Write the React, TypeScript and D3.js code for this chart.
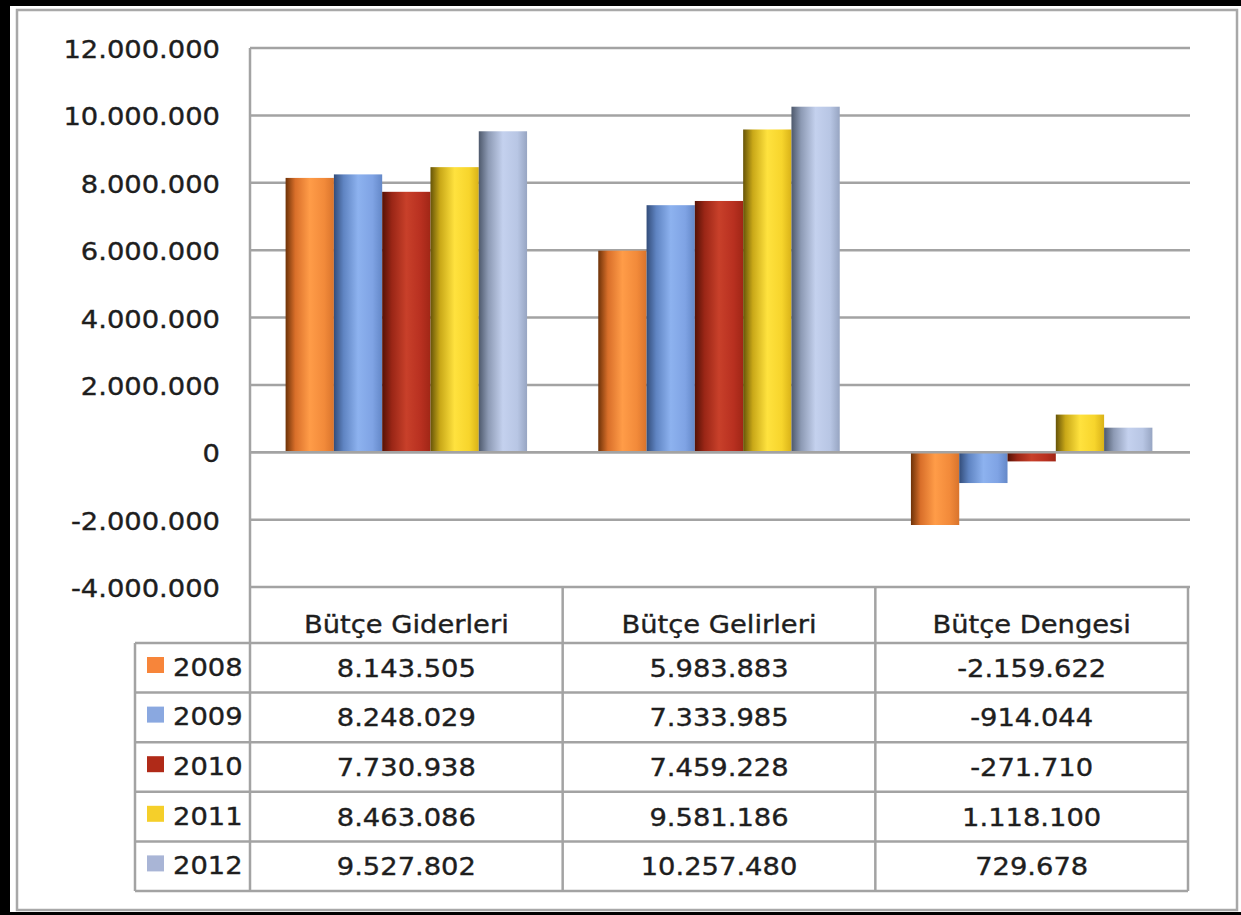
import React from 'react';
import { scaleBand, scaleLinear } from 'd3';

const categories = ['Bütçe Giderleri', 'Bütçe Gelirleri', 'Bütçe Dengesi'];
const years = ['2008', '2009', '2010', '2011', '2012'];
const values: number[][] = [
  [8143505, 5983883, -2159622],
  [8248029, 7333985, -914044],
  [7730938, 7459228, -271710],
  [8463086, 9581186, 1118100],
  [9527802, 10257480, 729678],
];
const tickValues = [-4000000, -2000000, 0, 2000000, 4000000, 6000000, 8000000, 10000000, 12000000];

// gradient stops per year: dark left edge, light middle, base right
const gradients = [
  ['#6e3208', '#d96f2a', '#ff9c48', '#f28a3a', '#d9742c'],
  ['#334d7a', '#5f84c2', '#8db2ef', '#7fa3e4', '#6488c8'],
  ['#551206', '#9a2616', '#c8402a', '#b83020', '#a02616'],
  ['#665408', '#c9a818', '#ffe23e', '#f7d52c', '#d9b218'],
  ['#4e596c', '#8d9ab4', '#c4d1ee', '#b8c6e4', '#97a5c2'],
];
const legendColors = ['#f7853a', '#8aa8e0', '#b02a18', '#f5cf2a', '#a9b5d6'];

const fmt = (v: number) => {
  const s = Math.abs(v).toString().replace(/\B(?=(\d{3})+(?!\d))/g, '.');
  return (v < 0 ? '-' : '') + s;
};

const W = 1241;
const H = 915;
const left = 250;
const right = 1188;
const top = 48;
const bottom = 587;
const rowH = 49.6;
const headerBottom = 643;
const legendLeft = 135;
const SX = 1.14;
const FONT = '"DejaVu Sans", Verdana, sans-serif';
const grid = '#a3a3a3';

const T: React.FC<{ x: number; y: number; anchor?: string; children: React.ReactNode }> = ({ x, y, anchor = 'middle', children }) => (
  <text
    transform={`translate(${x},${y}) scale(${SX},1)`}
    textAnchor={anchor}
    fontFamily={FONT}
    fontSize={24}
    fill="#1e1e1e"
    stroke="#1e1e1e"
    strokeWidth={0.35}
  >
    {children}
  </text>
);

export default function App() {
  const y = scaleLinear().domain([-4000000, 12000000]).range([bottom, top]);
  const x0 = scaleBand<string>().domain(categories).range([left, right]).paddingInner(0).paddingOuter(0);
  const inner = x0.bandwidth();
  const x1 = scaleBand<string>().domain(years).range([35.6, inner - 35.6]).padding(0);
  const rowY = (i: number) => headerBottom + i * rowH;

  return (
    <svg width={W} height={H} style={{ position: 'absolute', left: 0, top: 0, background: '#fff' }}>
      <defs>
        {gradients.map((g, i) => (
          <linearGradient key={i} id={`g${i}`} x1="0" x2="1" y1="0" y2="0">
            <stop offset="0" stopColor={g[0]} />
            <stop offset="0.2" stopColor={g[1]} />
            <stop offset="0.5" stopColor={g[2]} />
            <stop offset="0.8" stopColor={g[3]} />
            <stop offset="1" stopColor={g[4]} />
          </linearGradient>
        ))}
      </defs>

      {/* outer frame */}
      <rect x={0} y={0} width={W} height={6} fill="#000" />
      <rect x={0} y={0} width={10} height={H} fill="#000" />
      <rect x={0} y={912} width={W} height={3} fill="#000" />
      <rect x={17} y={10} width={1220} height={900} fill="none" stroke="#a8a8a8" strokeWidth={2.5} />

      {/* gridlines */}
      {tickValues.map(t => (
        <line key={t} x1={left} x2={1190} y1={y(t)} y2={y(t)} stroke={grid} strokeWidth={2.5} />
      ))}

      {/* y tick labels */}
      {tickValues.map(t => (
        <T key={t} x={220} y={y(t) + 10} anchor="end">{fmt(t)}</T>
      ))}

      {/* bars */}
      {categories.map((c, ci) => (
        <g key={c} transform={`translate(${x0(c)},0)`}>
          {years.map((yr, si) => {
            const v = values[si][ci];
            const y0 = y(0);
            const yv = y(v);
            return (
              <rect
                key={yr}
                x={x1(yr)}
                y={Math.min(y0, yv)}
                width={x1.bandwidth()}
                height={Math.abs(yv - y0)}
                fill={`url(#g${si})`}
              />
            );
          })}
        </g>
      ))}
      <line x1={left} x2={1190} y1={y(0)} y2={y(0)} stroke={grid} strokeWidth={2.5} />

      {/* data table */}
      <g stroke={grid} strokeWidth={2.5} fill="none">
        <line x1={left} x2={left} y1={top} y2={rowY(5)} />
        {categories.map((c, ci) => (
          <line key={c} x1={(x0(c) as number) + inner} x2={(x0(c) as number) + inner} y1={bottom} y2={rowY(5)} />
        ))}
        {years.map((yr, i) => (
          <line key={yr} x1={legendLeft} x2={right} y1={rowY(i)} y2={rowY(i)} />
        ))}
        <line x1={legendLeft} x2={right} y1={rowY(5)} y2={rowY(5)} />
        <line x1={legendLeft} x2={legendLeft} y1={rowY(0)} y2={rowY(5)} />
      </g>

      {categories.map(c => (
        <T key={c} x={(x0(c) as number) + inner / 2} y={bottom + 46}>{c}</T>
      ))}

      {years.map((yr, si) => (
        <g key={yr}>
          <rect x={147} y={rowY(si) + 14} width={17} height={16} fill={legendColors[si]} />
          <T x={173} y={rowY(si) + rowH / 2 + 8} anchor="start">{yr}</T>
          {categories.map((c, ci) => (
            <T key={c} x={(x0(c) as number) + inner / 2} y={rowY(si) + rowH / 2 + 9}>{fmt(values[si][ci])}</T>
          ))}
        </g>
      ))}
    </svg>
  );
}
